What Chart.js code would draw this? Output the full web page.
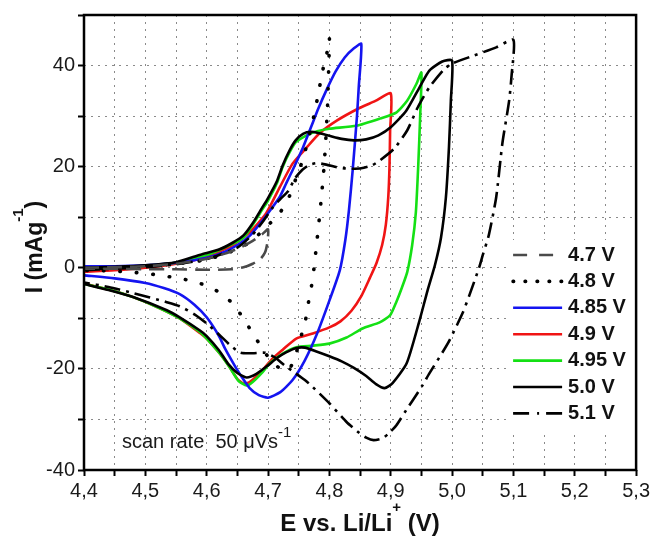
<!DOCTYPE html>
<html>
<head>
<meta charset="utf-8">
<title>Cyclic voltammograms</title>
<script src="https://cdn.jsdelivr.net/npm/chart.js@4.4.1/dist/chart.umd.min.js"></script>
<style>
  html, body { margin: 0; padding: 0; background: #fff; }
  canvas { display: block; }
</style>
</head>
<body>
<canvas id="cv" width="653" height="538"></canvas>
<script>
// Cyclic voltammograms, upper cut-off potential varied; each curve is [E (V), I (mA/g)]:
// anodic sweep from 4.4 V up to the vertex, then the cathodic sweep back to 4.4 V.
const curve47 = [
  [4.40, 0.0], [4.45, 0.1], [4.50, 0.3], [4.55, 0.8], [4.60, 1.8], [4.63, 2.8], [4.655, 4.0],
  [4.675, 5.3], [4.69, 6.6], [4.70, 7.6],
  [4.699, 5.0], [4.695, 3.0], [4.688, 1.8], [4.675, 0.8], [4.66, 0.1], [4.64, -0.3], [4.60, -0.4],
  [4.55, -0.3], [4.50, -0.3], [4.45, -0.2], [4.40, -0.2]
];
const curve48 = [
  [4.40, -0.3], [4.45, 0.0], [4.50, 0.3], [4.55, 0.8], [4.60, 1.6], [4.64, 3.2], [4.67, 5.0],
  [4.695, 7.8], [4.72, 11.0], [4.735, 14.2], [4.745, 17.5], [4.755, 20.8], [4.766, 25.5],
  [4.776, 30.7], [4.782, 34.5], [4.79, 39.5], [4.796, 42.5], [4.80, 45.5],
  [4.799, 40.0], [4.797, 32.0], [4.794, 25.0], [4.791, 19.5], [4.787, 14.0], [4.783, 9.0],
  [4.779, 4.5], [4.775, 0.0], [4.771, -3.5], [4.766, -6.8], [4.761, -10.4], [4.754, -13.5],
  [4.746, -16.8], [4.737, -19.6], [4.727, -20.4], [4.715, -19.5], [4.70, -17.6], [4.69, -15.8],
  [4.675, -13.0], [4.66, -10.0], [4.64, -6.8], [4.62, -4.8], [4.60, -3.6], [4.58, -2.7],
  [4.55, -2.0], [4.52, -1.4], [4.48, -0.9], [4.44, -0.6], [4.40, -0.5]
];
const curve485 = [
  [4.40, 0.3], [4.45, 0.3], [4.50, 0.5], [4.55, 1.0], [4.60, 2.0], [4.63, 3.2], [4.654, 4.8],
  [4.67, 6.3], [4.686, 8.6], [4.70, 10.8], [4.719, 14.0], [4.73, 16.8], [4.74, 19.3],
  [4.757, 23.8], [4.77, 27.8], [4.782, 31.5], [4.795, 35.1], [4.81, 38.8], [4.825, 41.6],
  [4.84, 43.4], [4.852, 44.3],
  [4.848, 36.0], [4.845, 30.0], [4.838, 19.3], [4.832, 11.5], [4.826, 5.5], [4.817, -0.5],
  [4.80, -6.5], [4.78, -13.0], [4.76, -18.3], [4.74, -22.2], [4.72, -24.6], [4.70, -25.7],
  [4.685, -25.2], [4.67, -23.8], [4.655, -21.2], [4.643, -18.8], [4.63, -16.0], [4.62, -13.5],
  [4.60, -9.8], [4.58, -7.3], [4.556, -5.2], [4.53, -4.0], [4.50, -3.0], [4.45, -2.1], [4.40, -1.5]
];
const curve49 = [
  [4.40, -0.8], [4.45, -0.5], [4.50, 0.0], [4.55, 0.8], [4.60, 2.2], [4.643, 4.5], [4.67, 7.0],
  [4.697, 10.8], [4.719, 15.9], [4.74, 20.6], [4.763, 23.8], [4.784, 26.6], [4.812, 29.1],
  [4.849, 31.6], [4.875, 33.0], [4.90, 34.5],
  [4.899, 27.0], [4.898, 20.0], [4.896, 14.0], [4.892, 8.5], [4.886, 4.5], [4.877, 1.0],
  [4.866, -2.0], [4.852, -5.6], [4.836, -8.5], [4.818, -10.6], [4.80, -11.8], [4.773, -13.0],
  [4.746, -14.0], [4.724, -16.2], [4.708, -17.9], [4.686, -20.9], [4.67, -22.6], [4.66, -22.9],
  [4.65, -22.0], [4.635, -19.2], [4.621, -16.9], [4.60, -14.0], [4.589, -12.9], [4.556, -10.0],
  [4.52, -7.8], [4.48, -5.8], [4.44, -4.3], [4.40, -3.1]
];
const curve495 = [
  [4.40, -0.3], [4.45, 0.0], [4.50, 0.4], [4.55, 1.0], [4.60, 2.5], [4.643, 4.8], [4.66, 6.0],
  [4.675, 8.5], [4.69, 11.4], [4.70, 13.3], [4.714, 16.6], [4.724, 20.0], [4.735, 22.8],
  [4.745, 24.8], [4.763, 26.2], [4.78, 27.0], [4.80, 27.5], [4.844, 28.1], [4.882, 29.5],
  [4.909, 30.7], [4.927, 33.1], [4.942, 36.4], [4.95, 38.6],
  [4.948, 30.0], [4.945, 20.6], [4.941, 11.0], [4.935, 4.5], [4.927, -0.8], [4.918, -4.0],
  [4.909, -6.8], [4.899, -9.4], [4.882, -10.8], [4.854, -12.0], [4.828, -13.8], [4.80, -15.0],
  [4.773, -15.4], [4.746, -15.7], [4.724, -17.0], [4.703, -18.9], [4.69, -20.8], [4.675, -22.6],
  [4.665, -23.3], [4.652, -22.4], [4.638, -19.8], [4.621, -16.9], [4.60, -14.0], [4.589, -12.7],
  [4.556, -10.0], [4.52, -7.8], [4.48, -5.8], [4.44, -4.3], [4.40, -3.2]
];
const curve50 = [
  [4.40, 0.0], [4.45, 0.2], [4.50, 0.5], [4.55, 1.1], [4.59, 2.6], [4.62, 3.6], [4.643, 5.0],
  [4.66, 6.4], [4.675, 8.8], [4.69, 11.8], [4.70, 13.8], [4.714, 17.0], [4.724, 20.3],
  [4.735, 23.2], [4.745, 25.2], [4.757, 26.5], [4.77, 26.9], [4.784, 26.6], [4.80, 26.1],
  [4.82, 25.5], [4.84, 25.2], [4.86, 25.4], [4.88, 26.2], [4.90, 27.8], [4.925, 31.0],
  [4.947, 35.7], [4.963, 39.0], [4.984, 40.8], [5.00, 41.0],
  [4.998, 33.0], [4.995, 24.0], [4.99, 14.0], [4.982, 6.0], [4.972, 0.5], [4.96, -4.5],
  [4.947, -10.4], [4.926, -18.9], [4.903, -22.8], [4.89, -23.8], [4.876, -23.0], [4.86, -21.4],
  [4.84, -19.8], [4.82, -18.5], [4.80, -17.5], [4.78, -16.6], [4.76, -15.8], [4.745, -15.9],
  [4.73, -16.7], [4.714, -17.9], [4.70, -19.3], [4.681, -21.0], [4.665, -21.7], [4.65, -20.8],
  [4.635, -19.0], [4.62, -16.3], [4.60, -13.5], [4.589, -12.4], [4.556, -9.8], [4.535, -8.4],
  [4.48, -5.8], [4.44, -4.4], [4.40, -3.2]
];
const curve51 = [
  [4.40, -0.5], [4.45, -0.2], [4.50, 0.1], [4.55, 0.7], [4.60, 1.7], [4.65, 4.0], [4.675, 6.6],
  [4.692, 9.2], [4.708, 12.0], [4.72, 13.6], [4.733, 15.2], [4.744, 17.7], [4.756, 19.4],
  [4.768, 20.4], [4.78, 20.7], [4.795, 20.4], [4.812, 19.9], [4.83, 19.6], [4.852, 19.7],
  [4.87, 20.3], [4.882, 21.2], [4.906, 23.6], [4.927, 27.2], [4.944, 31.7], [4.963, 35.7],
  [4.988, 39.4], [5.00, 40.4], [5.036, 42.0], [5.072, 43.6], [5.10, 45.1],
  [5.097, 38.0], [5.093, 33.0], [5.082, 24.6], [5.072, 14.0], [5.06, 6.5], [5.05, 2.5],
  [5.044, 0.0], [5.028, -5.5], [5.017, -9.0], [4.996, -14.3], [4.984, -16.8], [4.963, -20.9],
  [4.952, -23.2], [4.936, -26.2], [4.925, -28.2], [4.909, -31.2], [4.898, -32.6], [4.887, -33.7],
  [4.872, -34.1], [4.86, -33.6], [4.849, -32.7], [4.828, -30.5], [4.80, -26.8], [4.773, -23.6],
  [4.76, -22.2], [4.743, -20.7], [4.727, -19.3], [4.711, -17.7], [4.695, -16.8], [4.675, -16.9],
  [4.655, -16.8], [4.64, -15.5], [4.62, -13.2], [4.60, -11.0], [4.58, -9.2], [4.556, -7.6],
  [4.535, -6.8], [4.48, -5.0], [4.44, -3.8], [4.40, -2.9]
];

const seriesLabels = ['4.7 V', '4.8 V', '4.85 V', '4.9 V', '4.95 V', '5.0 V', '5.1 V'];
const xTickLabels = ['4,4', '4,5', '4,6', '4,7', '4,8', '4,9', '5,0', '5,1', '5,2', '5,3'];
const yTickLabels = ['-40', '-20', '0', '20', '40'];

const curves = [curve47, curve48, curve485, curve49, curve495, curve50, curve51];

// line styles per series (curve dash, legend-sample dash, draw order: lower = on top)
const seriesStyles = [
  { color: '#4a4a4a', width: 2.6, dash: [15, 8], key: [14, 12], cap: 'butt', order: 0 },
  { color: '#000000', width: 3.6, dash: [0.5, 16], key: [0.5, 11.5], cap: 'round', order: 1 },
  { color: '#1414f0', width: 2.6, dash: [], key: [], cap: 'butt', order: 4 },
  { color: '#f01414', width: 2.6, dash: [], key: [], cap: 'butt', order: 6 },
  { color: '#14e014', width: 2.6, dash: [], key: [], cap: 'butt', order: 5 },
  { color: '#000000', width: 2.6, dash: [], key: [], cap: 'butt', order: 3 },
  { color: '#000000', width: 2.6, dash: [16, 6, 3, 6], key: [16, 8, 2, 7], cap: 'butt', order: 2 }
];

const FONT = '"Liberation Sans", Arial, Helvetica, sans-serif';
const X_MIN = 4.4, X_MAX = 5.3, X_STEP = 0.05;
const Y_MIN = -40, Y_MAX = 50, Y_STEP = 10;

function stepValues(min, max, step) {
  const out = [];
  const n = Math.round((max - min) / step);
  for (let i = 0; i <= n; i++) out.push(+(min + i * step).toFixed(4));
  return out;
}

// text made of normal and raised runs, drawn left to right from x
function richWidth(ctx, parts) {
  let w = 0;
  for (const p of parts) { ctx.font = p.font; w += ctx.measureText(p.text).width; }
  return w;
}
function drawRich(ctx, parts, x, y) {
  let cx = x;
  for (const p of parts) {
    ctx.font = p.font;
    ctx.fillText(p.text, cx, y - (p.rise || 0));
    cx += ctx.measureText(p.text).width;
  }
}

const overlay = {
  id: 'overlay',
  afterDatasetsDraw(chart) {
    const { ctx, chartArea: a } = chart;
    ctx.save();

    // legend panel inside the plot, lower right
    const boxL = a.right - 129, boxT = 240, boxB = 430;
    ctx.fillStyle = '#ffffff';
    ctx.fillRect(boxL, boxT, a.right - boxL, boxB - boxT);
    const sx0 = a.right - 123, sx1 = a.right - 74, tx = a.right - 68;
    const y0 = 255, dy = 26.4;
    ctx.textBaseline = 'middle';
    ctx.textAlign = 'left';
    seriesLabels.forEach((lab, i) => {
      const s = seriesStyles[i];
      const y = y0 + i * dy;
      ctx.beginPath();
      ctx.strokeStyle = s.color;
      ctx.lineWidth = s.width;
      ctx.lineCap = s.cap;
      ctx.setLineDash(s.key);
      ctx.moveTo(sx0, y);
      ctx.lineTo(sx1, y);
      ctx.stroke();
      ctx.setLineDash([]);
      ctx.fillStyle = '#111111';
      ctx.font = 'bold 20px ' + FONT;
      ctx.fillText(lab, tx, y);
    });

    // closed frame round the plot
    ctx.lineCap = 'butt';
    ctx.strokeStyle = '#000000';
    ctx.lineWidth = 2.5;
    ctx.strokeRect(a.left, a.top, a.right - a.left, a.bottom - a.top);

    // scan-rate note
    ctx.fillStyle = '#1a1a1a';
    ctx.textBaseline = 'alphabetic';
    drawRich(ctx, [
      { text: 'scan rate  50 \u03bcVs', font: '20px ' + FONT },
      { text: '-1', font: '15px ' + FONT, rise: 11 }
    ], a.left + 38, 448);

    // axis titles
    ctx.fillStyle = '#111111';
    const xt = [
      { text: 'E vs. Li/Li', font: 'bold 24px ' + FONT },
      { text: '+', font: 'bold 15px ' + FONT, rise: 19 },
      { text: ' (V)', font: 'bold 24px ' + FONT }
    ];
    const xw = richWidth(ctx, xt);
    drawRich(ctx, xt, (a.left + a.right) / 2 - xw / 2, 531);

    const yt = [
      { text: 'I (mAg', font: 'bold 23px ' + FONT },
      { text: '-1', font: 'bold 15px ' + FONT, rise: 19 },
      { text: ')', font: 'bold 23px ' + FONT }
    ];
    const yw = richWidth(ctx, yt);
    ctx.translate(42, 247);
    ctx.rotate(-Math.PI / 2);
    drawRich(ctx, yt, -yw / 2, 0);

    ctx.restore();
  }
};

const datasets = curves.map((c, i) => ({
  label: seriesLabels[i],
  data: c.map(([x, y]) => ({ x, y })),
  showLine: true,
  fill: false,
  pointRadius: 0,
  pointHoverRadius: 0,
  borderColor: seriesStyles[i].color,
  borderWidth: seriesStyles[i].width,
  borderDash: seriesStyles[i].dash,
  borderCapStyle: seriesStyles[i].cap,
  borderJoinStyle: 'round',
  tension: 0.2,
  order: seriesStyles[i].order
}));

const tickFont = { family: FONT, size: 20 };

new Chart(document.getElementById('cv'), {
  type: 'scatter',
  data: { datasets },
  plugins: [overlay],
  options: {
    responsive: false,
    animation: false,
    events: [],
    devicePixelRatio: 1,
    layout: { padding: { top: 14, right: 16, left: 0, bottom: 0 } },
    plugins: { legend: { display: false }, tooltip: { enabled: false } },
    scales: {
      x: {
        type: 'linear',
        min: X_MIN,
        max: X_MAX,
        afterBuildTicks: s => { s.ticks = stepValues(X_MIN, X_MAX, X_STEP).map(v => ({ value: v })); },
        afterFit: s => { s.height = 68; },
        ticks: {
          autoSkip: false, maxRotation: 0, minRotation: 0, padding: 3,
          color: '#1a1a1a', font: tickFont,
          callback: (v, i) => (i % 2 === 0 ? xTickLabels[i / 2] : '')
        },
        grid: { color: '#8a8a8a', lineWidth: 1, tickColor: '#000', tickWidth: 2, tickLength: 6 },
        border: { display: false, dash: [2, 5] }
      },
      y: {
        type: 'linear',
        min: Y_MIN,
        max: Y_MAX,
        afterBuildTicks: s => { s.ticks = stepValues(Y_MIN, Y_MAX, Y_STEP).map(v => ({ value: v })); },
        afterFit: s => { s.width = 84; },
        ticks: {
          autoSkip: false, padding: 3,
          color: '#1a1a1a', font: tickFont,
          callback: (v, i) => (i % 2 === 0 && i / 2 < yTickLabels.length ? yTickLabels[i / 2] : '')
        },
        grid: { color: '#8a8a8a', lineWidth: 1, tickColor: '#000', tickWidth: 2, tickLength: 6 },
        border: { display: false, dash: [2, 5] }
      }
    }
  }
});
</script>
</body>
</html>
